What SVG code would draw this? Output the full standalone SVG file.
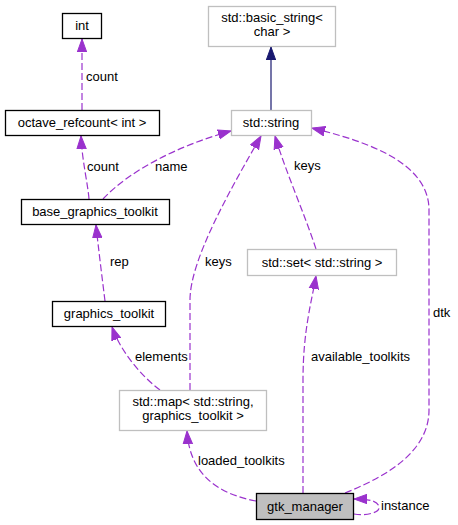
<svg xmlns="http://www.w3.org/2000/svg" width="458" height="525" viewBox="0 0 458 525">
<defs>
<style>
text{font-family:"Liberation Sans",Arial,sans-serif;font-size:13px;fill:#000}
.n text{text-anchor:middle}
.b{fill:#fff;stroke:#000;stroke-width:1.3}
.g{fill:#fff;stroke:#bfbfbf;stroke-width:1.3}
.cur{fill:#bfbfbf;stroke:#000;stroke-width:1.3}
.e{fill:none;stroke:#9a32cd;stroke-width:1.2;stroke-dasharray:7,3;marker-end:url(#pa)}
.inh{fill:none;stroke:#191970;stroke-width:1.2;marker-end:url(#na)}
</style>
<marker id="pa" markerUnits="userSpaceOnUse" markerWidth="15" markerHeight="12" refX="13" refY="6" orient="auto" viewBox="0 0 15 12">
<path d="M0,1.3 L13,6 L0,10.7 Z" fill="#9a32cd" stroke="#9a32cd"/>
</marker>
<marker id="na" markerUnits="userSpaceOnUse" markerWidth="15" markerHeight="12" refX="13" refY="6" orient="auto" viewBox="0 0 15 12">
<path d="M0,1.3 L13,6 L0,10.7 Z" fill="#191970" stroke="#191970"/>
</marker>
</defs>
<rect width="458" height="525" fill="#fff"/>
<g id="edges">
<path class="inh" d="M271,110 L271,47"/>
<path class="e" d="M82,110 L82,39"/>
<path class="e" d="M89,199 C88,185 82,160 81,136"/>
<path class="e" d="M103,199 C130,170 180,145 231,131"/>
<path class="e" d="M105,301 C103,285 98,245 96,225"/>
<path class="e" d="M190,390 L190,300 C190,260 230,190 261,136"/>
<path class="e" d="M316,249 C305,215 285,170 275,136"/>
<path class="e" d="M345,493 C390,475 429,450 429,410 L429,210 C429,160 360,140 312,128"/>
<path class="e" d="M160,390 C140,375 120,350 112,327"/>
<path class="e" d="M256,501 C225,495 190,480 187,431"/>
<path class="e" d="M303,493 L303,380 C303,330 312,300 316,276"/>
<path class="e" d="M354,514 C365,516 380,513 379,507 C378,501 370,499 354,499"/>
<text x="86" y="81">count</text>
<text x="87" y="171">count</text>
<text x="155" y="171">name</text>
<text x="110" y="266">rep</text>
<text x="205" y="266">keys</text>
<text x="294" y="170">keys</text>
<text x="433" y="317">dtk</text>
<text x="135" y="361">elements</text>
<text x="311" y="361">available_toolkits</text>
<text x="198" y="465">loaded_toolkits</text>
<text x="381" y="510">instance</text>
</g>
<g id="node-int" class="n"><rect class="b" x="62.5" y="13.5" width="39" height="25"/><text x="82" y="30">int</text></g>
<g id="node-octave_refcount" class="n"><rect class="b" x="5.5" y="110.5" width="154" height="25"/><text x="82" y="127">octave_refcount&lt; int &gt;</text></g>
<g id="node-base_graphics_toolkit" class="n"><rect class="b" x="21.5" y="199.5" width="148" height="25"/><text x="95" y="216">base_graphics_toolkit</text></g>
<g id="node-graphics_toolkit" class="n"><rect class="b" x="52.5" y="301.5" width="113" height="25"/><text x="109" y="318">graphics_toolkit</text></g>
<g id="node-std_map" class="n"><rect class="g" x="119.5" y="390.5" width="147" height="40"/><text x="193" y="406">std::map&lt; std::string,</text><text x="193" y="420">graphics_toolkit &gt;</text></g>
<g id="node-gtk_manager" class="n"><rect class="cur" x="256.5" y="493.5" width="97" height="26"/><text x="305" y="511">gtk_manager</text></g>
<g id="node-std_set" class="n"><rect class="g" x="247.5" y="249.5" width="149" height="26"/><text x="322" y="267">std::set&lt; std::string &gt;</text></g>
<g id="node-std_string" class="n"><rect class="g" x="231.5" y="110.5" width="80" height="25"/><text x="271" y="127">std::string</text></g>
<g id="node-basic_string" class="n"><rect class="g" x="208.5" y="6.5" width="127" height="40"/><text x="272" y="22">std::basic_string&lt;</text><text x="272" y="36">char &gt;</text></g>
</svg>
